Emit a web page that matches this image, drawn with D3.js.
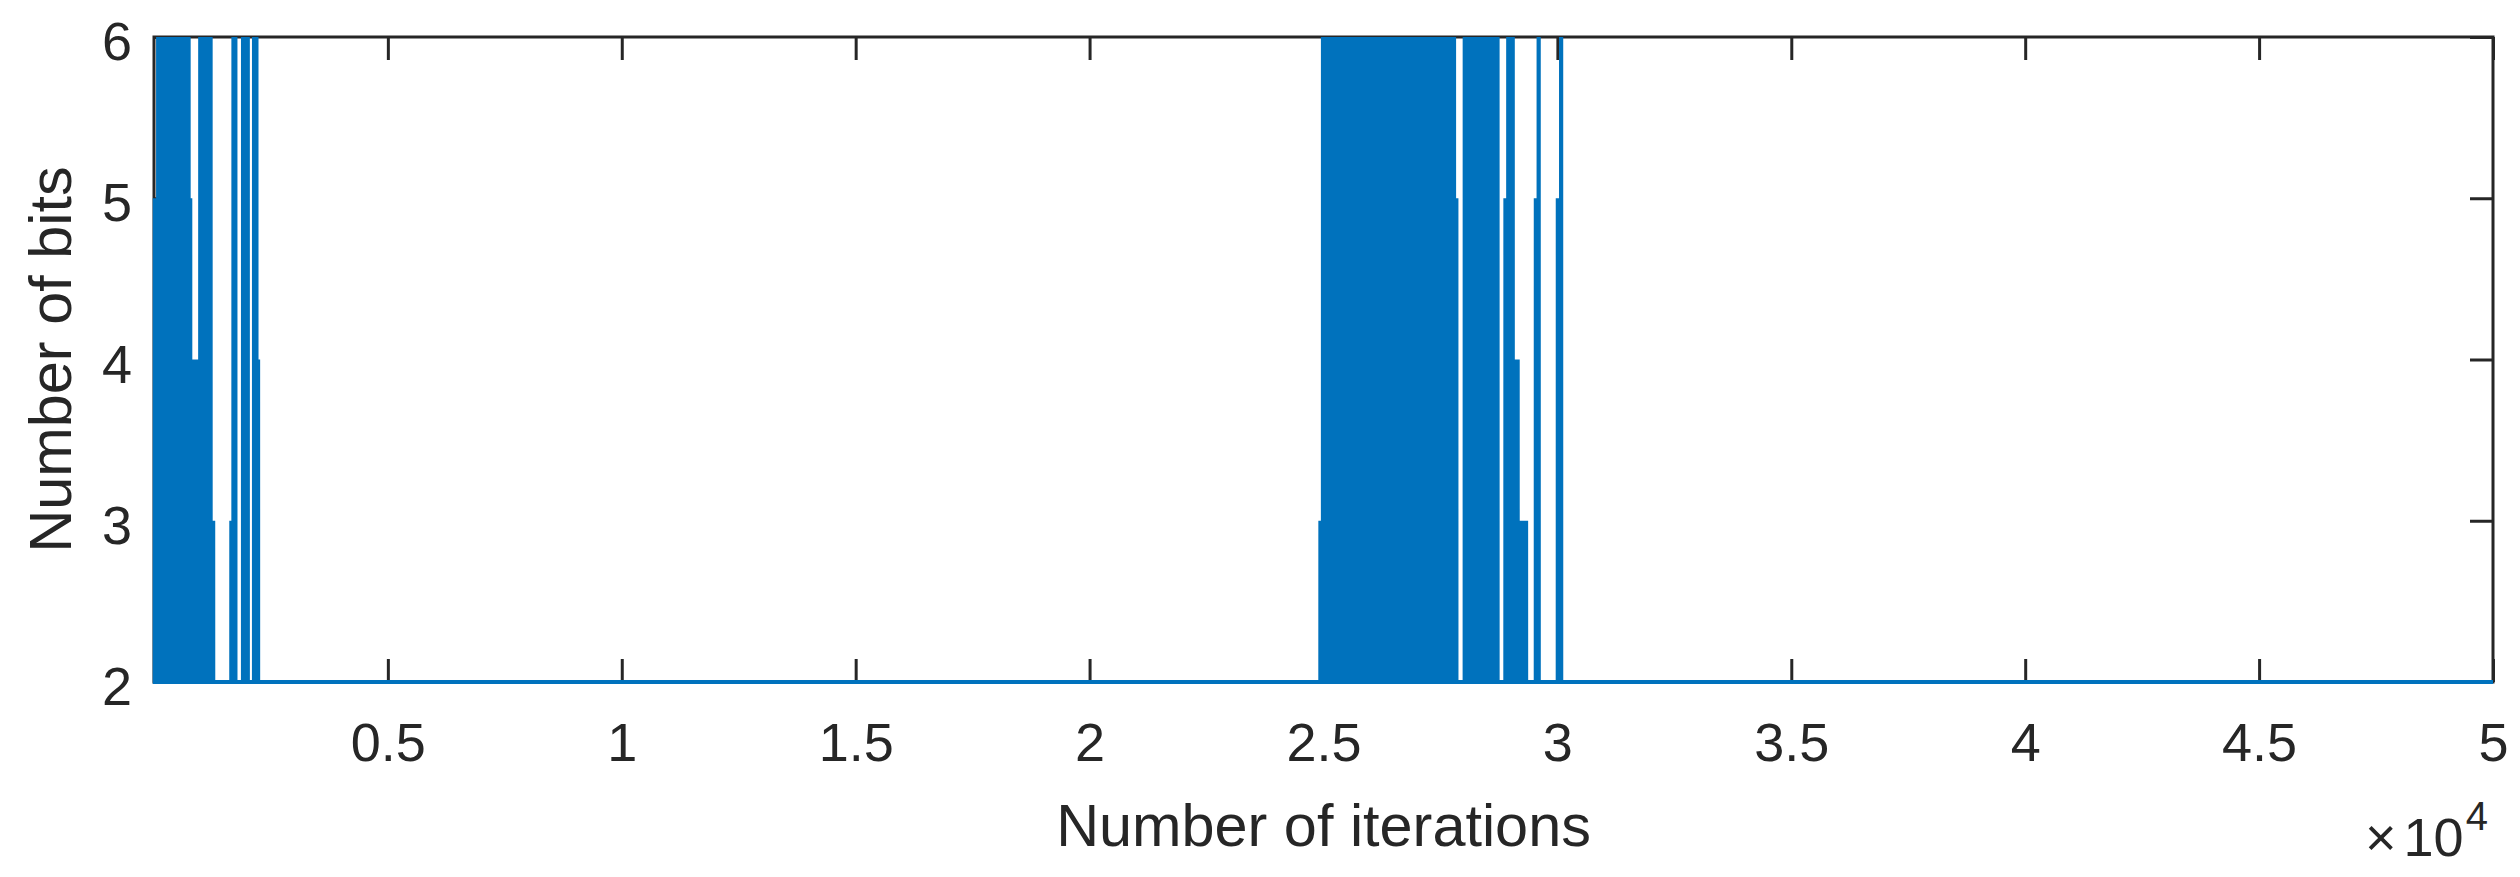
<!DOCTYPE html>
<html>
<head>
<meta charset="utf-8">
<script src="https://cdn.jsdelivr.net/npm/d3@7"></script>
<style>
    body { margin: 0; background: #ffffff; }
    #bits-plot text { font-family: "Liberation Sans", Arial, Helvetica, sans-serif; fill: #262626; }
</style>
</head>
<body>
<div id="bits-plot"></div>
<script>
/* ----------------------------------------------------- Data ------------------------------------------------------------------------- */

// the quantizer sits on the 2-bit floor; these are the iterations where it jumps up, and the bits it reaches
const spikeIterations = [
    20, 90, 170, 240, 320, 400, 470, 550, 620, 700, 740, 775, 830, 880, 905,
    990, 1060, 1140, 1210, 1265,
    1655, 1700, 1740,
    1905, 1960, 2005,
    2140, 2190, 2225,
    24935, 24990, 25060, 25140, 25210, 25290, 25360, 25440, 25520, 25590, 25670,
    25740, 25820, 25900, 25970, 26050, 26120, 26200, 26280, 26350, 26430,
    26500, 26580, 26660, 26730, 26810, 26880, 26960, 27040, 27110, 27190,
    27260, 27340, 27420, 27490, 27570, 27640, 27720, 27790, 27840,
    28020, 28100, 28170, 28250, 28330, 28400, 28480, 28560, 28640, 28720,
    28890, 28950, 29000, 29045, 29100, 29150, 29210, 29270, 29330,
    29540, 29600,
    30010, 30080
];
const spikeBits = [
    5, 6, 6, 6, 6, 6, 6, 6, 6, 6, 6, 5, 4, 4, 4,
    6, 6, 6, 6, 3,
    3, 6, 6,
    6, 6, 6,
    6, 6, 4,
    3, 6, 6, 6, 6, 6, 6, 6, 6, 6, 6,
    6, 6, 6, 6, 6, 6, 6, 6, 6, 6,
    6, 6, 6, 6, 6, 6, 6, 6, 6, 6,
    6, 6, 6, 6, 6, 6, 6, 6, 5,
    6, 6, 6, 6, 6, 6, 6, 6, 6, 6,
    5, 6, 6, 6, 4, 4, 3, 3, 3,
    5, 6,
    5, 6
];

const iterationRange = [1, 50000];
const bitsRange = [2, 6];
const floorBits = 2;

const xTickValues = [5000, 10000, 15000, 20000, 25000, 30000, 35000, 40000, 45000, 50000];
const xTickLabels = ['0.5', '1', '1.5', '2', '2.5', '3', '3.5', '4', '4.5', '5'];
const yTickValues = [2, 3, 4, 5, 6];
const yTickLabels = ['2', '3', '4', '5', '6'];

/* ----------------------------------------------------- Layout ----------------------------------------------------------------------- */

const svgWidth = 2520;
const svgHeight = 877;
const plot = { left: 154, right: 2493, top: 37, bottom: 682 };
const tickLength = 23;
const axisColor = '#262626';
const lineColor = '#0072BD';

/* ----------------------------------------------------- Helpers ---------------------------------------------------------------------- */

function buildSeries() {
    // every jump is a single iteration: floor -> peak -> floor
    const points = [[iterationRange[0], floorBits]];
    spikeIterations.forEach(function (it, i) {
        points.push([it - 1, floorBits]);
        points.push([it, spikeBits[i]]);
        points.push([it + 1, floorBits]);
    });
    points.push([iterationRange[1], floorBits]);
    return points;
}

function styleAxis(g) {
    g.attr('font-family', null).attr('font-size', null);
    g.select('.domain').remove();
    g.selectAll('.tick line')
        .attr('stroke', axisColor)
        .attr('stroke-width', 3);
    g.selectAll('.tick text')
        .style('font-size', '54px');
}

/* ----------------------------------------------------- Chart ------------------------------------------------------------------------ */

function drawChart() {
    const svg = d3.select('#bits-plot').append('svg')
        .attr('width', svgWidth)
        .attr('height', svgHeight);

    svg.append('rect')
        .attr('width', svgWidth)
        .attr('height', svgHeight)
        .attr('fill', '#ffffff');

    const xScale = d3.scaleLinear()
        .domain(iterationRange)
        .range([plot.left, plot.right]);

    const yScale = d3.scaleLinear()
        .domain(bitsRange)
        .range([plot.bottom, plot.top]);

    // ticks point inwards on all four sides, labels only bottom / left
    svg.append('g')
        .attr('transform', `translate(0, ${plot.bottom})`)
        .call(d3.axisBottom(xScale)
            .tickValues(xTickValues)
            .tickFormat((d, i) => xTickLabels[i])
            .tickSize(-tickLength)
            .tickPadding(41))
        .call(styleAxis);

    svg.append('g')
        .attr('transform', `translate(0, ${plot.top})`)
        .call(d3.axisTop(xScale)
            .tickValues(xTickValues)
            .tickFormat('')
            .tickSize(-tickLength))
        .call(styleAxis);

    svg.append('g')
        .attr('transform', `translate(${plot.left}, 0)`)
        .call(d3.axisLeft(yScale)
            .tickValues(yTickValues)
            .tickFormat((d, i) => yTickLabels[i])
            .tickSize(-tickLength)
            .tickPadding(22))
        .call(styleAxis)
        .selectAll('.tick text')
        .attr('dy', '0.42em');

    svg.append('g')
        .attr('transform', `translate(${plot.right}, 0)`)
        .call(d3.axisRight(yScale)
            .tickValues(yTickValues)
            .tickFormat('')
            .tickSize(-tickLength))
        .call(styleAxis);

    svg.append('rect')
        .attr('x', plot.left)
        .attr('y', plot.top)
        .attr('width', plot.right - plot.left)
        .attr('height', plot.bottom - plot.top)
        .attr('fill', 'none')
        .attr('stroke', axisColor)
        .attr('stroke-width', 3);

    const line = d3.line()
        .x(d => xScale(d[0]))
        .y(d => yScale(d[1]));

    svg.append('path')
        .datum(buildSeries())
        .attr('d', line)
        .attr('fill', 'none')
        .attr('stroke', lineColor)
        .attr('stroke-width', 4.2)
        .attr('stroke-linejoin', 'miter');

    /* Labels */
    svg.append('text')
        .attr('x', (plot.left + plot.right) / 2)
        .attr('y', 846)
        .attr('text-anchor', 'middle')
        .style('font-size', '59.4px')
        .text('Number of iterations');

    svg.append('text')
        .attr('transform', `translate(71, ${(plot.top + plot.bottom) / 2}) rotate(-90)`)
        .attr('text-anchor', 'middle')
        .style('font-size', '59.4px')
        .text('Number of bits');

    // MATLAB style exponent under the right end of the x axis
    const exponent = svg.append('text')
        .attr('x', 2365)
        .attr('y', 856)
        .style('font-size', '54px');
    exponent.append('tspan').text('\u00d7');
    exponent.append('tspan').attr('dx', 7).text('10');
    exponent.append('tspan')
        .attr('dx', 2)
        .attr('dy', -26)
        .style('font-size', '40px')
        .text('4');
}

drawChart();
</script>
</body>
</html>
